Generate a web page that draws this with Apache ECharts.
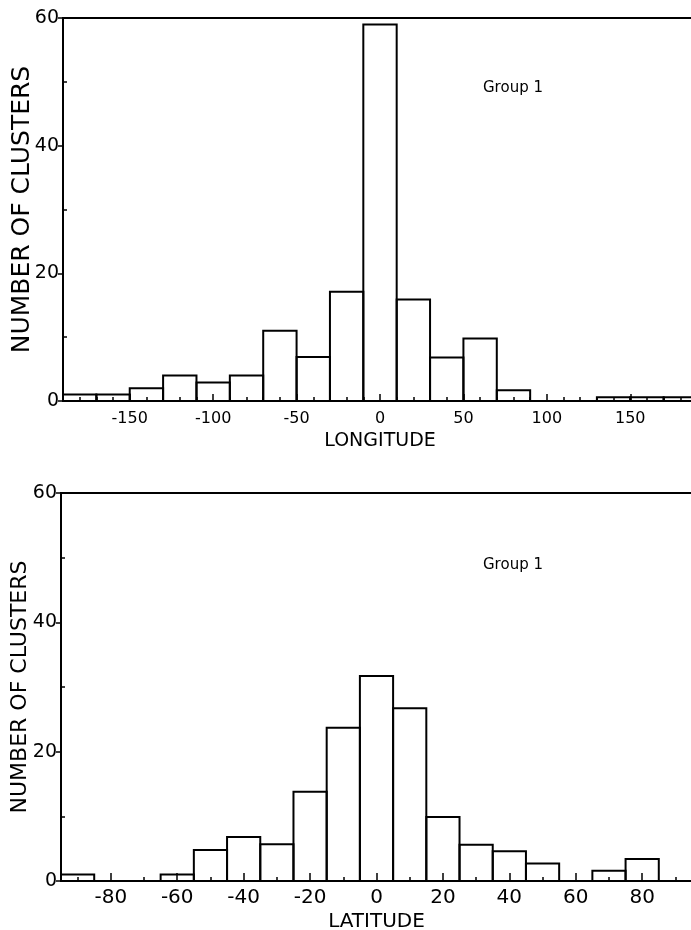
<!DOCTYPE html>
<html>
<head>
<meta charset="utf-8">
<script src="https://cdn.jsdelivr.net/npm/echarts@6/dist/echarts.min.js"></script>
<style>
  html, body { margin: 0; padding: 0; background: #fff; }
  #chart { width: 691px; height: 930px; }
</style>
</head>
<body>
<div id="chart"></div>
<script>
// Group 1 cluster counts, longitude in 20 deg bins (left edge of each bin)
const lonBinStarts = [-190, -170, -150, -130, -110, -90, -70, -50, -30, -10, 10, 30, 50, 70, 90, 110, 130, 150, 170];
const lonCounts = [1, 1, 2, 4, 2.9, 4, 11, 6.9, 17.1, 59, 15.9, 6.8, 9.8, 1.7, 0, 0, 0.6, 0.6, 0.6];
const lonBinWidth = 20;
const lonLabelValues = [-150, -100, -50, 0, 50, 100, 150];
const lonMinorTicks = [-180, -170, -160, -150, -140, -130, -120, -110, -100, -90, -80, -70, -60, -50, -40, -30, -20, -10,
    0, 10, 20, 30, 40, 50, 60, 70, 80, 90, 100, 110, 120, 130, 140, 150, 160, 170, 180];

// latitude in 10 deg bins
const latBinStarts = [-95, -85, -75, -65, -55, -45, -35, -25, -15, -5, 5, 15, 25, 35, 45, 55, 65, 75, 85];
const latCounts = [1, 0, 0, 1, 4.8, 6.8, 5.7, 13.8, 23.7, 31.7, 26.7, 9.9, 5.6, 4.6, 2.7, 0, 1.6, 3.4, 0];
const latBinWidth = 10;
const latLabelValues = [-80, -60, -40, -20, 0, 20, 40, 60, 80];
const latMinorTicks = [-90, -70, -50, -30, -10, 10, 30, 50, 70, 90];

const countLabelValues = [0, 20, 40, 60];
const countMinorTicks = [10, 30, 50];

const FONT = "DejaVu Sans";
const INK = "#000";

function binData(starts, counts, width) {
    return starts.map((s, i) => [s, s + width, counts[i]]);
}

function renderBin(params, api) {
    const h = api.value(2);
    if (!h) return null;
    const p0 = api.coord([api.value(0), 0]);
    const p1 = api.coord([api.value(1), h]);
    return {
        type: "rect",
        shape: { x: p0[0], y: p1[1], width: p1[0] - p0[0], height: p0[1] - p1[1] },
        style: { fill: "none", stroke: INK, lineWidth: 2 },
    };
}

function mainX(gridIndex, min, max, labels, name, labelSize, labelMargin, tickLen, nameSize) {
    return {
        type: "value", gridIndex, position: "bottom", min, max,
        axisLine: { show: true, onZero: false, lineStyle: { color: INK, width: 2 } },
        axisTick: { show: true, inside: true, length: tickLen, customValues: labels, lineStyle: { color: INK, width: 1.5 } },
        axisLabel: { customValues: labels, color: INK, fontSize: labelSize, fontFamily: FONT, margin: labelMargin },
        splitLine: { show: false },
        name, nameLocation: "middle", nameGap: 31, nameMoveOverlap: false,
        nameTextStyle: { color: INK, fontSize: nameSize, fontFamily: FONT },
    };
}

function minorX(gridIndex, min, max, ticks) {
    return {
        type: "value", gridIndex, position: "bottom", min, max,
        axisLine: { show: false, onZero: false },
        axisTick: { show: true, inside: true, length: 4, customValues: ticks, lineStyle: { color: INK, width: 1.5 } },
        axisLabel: { show: false },
        splitLine: { show: false },
    };
}

function mainY(gridIndex, nameSize, nameGap) {
    return {
        type: "value", gridIndex, position: "left", min: 0, max: 60,
        axisLine: { show: true, onZero: false, lineStyle: { color: INK, width: 2 } },
        axisTick: { show: true, length: 5, customValues: countLabelValues, lineStyle: { color: INK, width: 1.5 } },
        axisLabel: { customValues: countLabelValues, color: INK, fontSize: 19, fontFamily: FONT, margin: 4 },
        splitLine: { show: false },
        name: "NUMBER OF CLUSTERS", nameLocation: "middle", nameRotate: 90, nameGap, nameMoveOverlap: false,
        nameTextStyle: { color: INK, fontSize: nameSize, fontFamily: FONT },
    };
}

function minorY(gridIndex) {
    return {
        type: "value", gridIndex, position: "left", min: 0, max: 60,
        axisLine: { show: false, onZero: false },
        axisTick: { show: true, inside: true, length: 4, customValues: countMinorTicks, lineStyle: { color: INK, width: 1.5 } },
        axisLabel: { show: false },
        splitLine: { show: false },
    };
}

const chart = echarts.init(document.getElementById("chart"), null, { renderer: "canvas" });

chart.setOption({
    backgroundColor: "#fff",
    animation: false,
    grid: [
        { left: 63, right: -6, top: 18, height: 383, outerBoundsMode: "none", containLabel: false,
          show: true, borderColor: INK, borderWidth: 2, backgroundColor: "transparent" },
        { left: 61, right: -1, top: 493, height: 388, outerBoundsMode: "none", containLabel: false,
          show: true, borderColor: INK, borderWidth: 2, backgroundColor: "transparent" },
    ],
    xAxis: [
        mainX(0, -190, 190, lonLabelValues, "LONGITUDE", 16, 10, 7, 19),
        minorX(0, -190, 190, lonMinorTicks),
        mainX(1, -95, 95, latLabelValues, "LATITUDE", 20, 7, 8, 20),
        minorX(1, -95, 95, latMinorTicks),
    ],
    yAxis: [
        mainY(0, 25, 28),
        minorY(0),
        mainY(1, 22, 30),
        minorY(1),
    ],
    graphic: [
        { type: "text", left: 483, top: 81, style: { text: "Group 1", fill: INK, fontSize: 15, fontFamily: FONT } },
        { type: "text", left: 483, top: 558, style: { text: "Group 1", fill: INK, fontSize: 15, fontFamily: FONT } },
    ],
    series: [
        {
            type: "custom", name: "Longitude", xAxisIndex: 0, yAxisIndex: 0,
            renderItem: renderBin, encode: { x: [0, 1], y: 2 },
            data: binData(lonBinStarts, lonCounts, lonBinWidth),
        },
        {
            type: "custom", name: "Latitude", xAxisIndex: 2, yAxisIndex: 2,
            renderItem: renderBin, encode: { x: [0, 1], y: 2 },
            data: binData(latBinStarts, latCounts, latBinWidth),
        },
    ],
});
</script>
</body>
</html>
